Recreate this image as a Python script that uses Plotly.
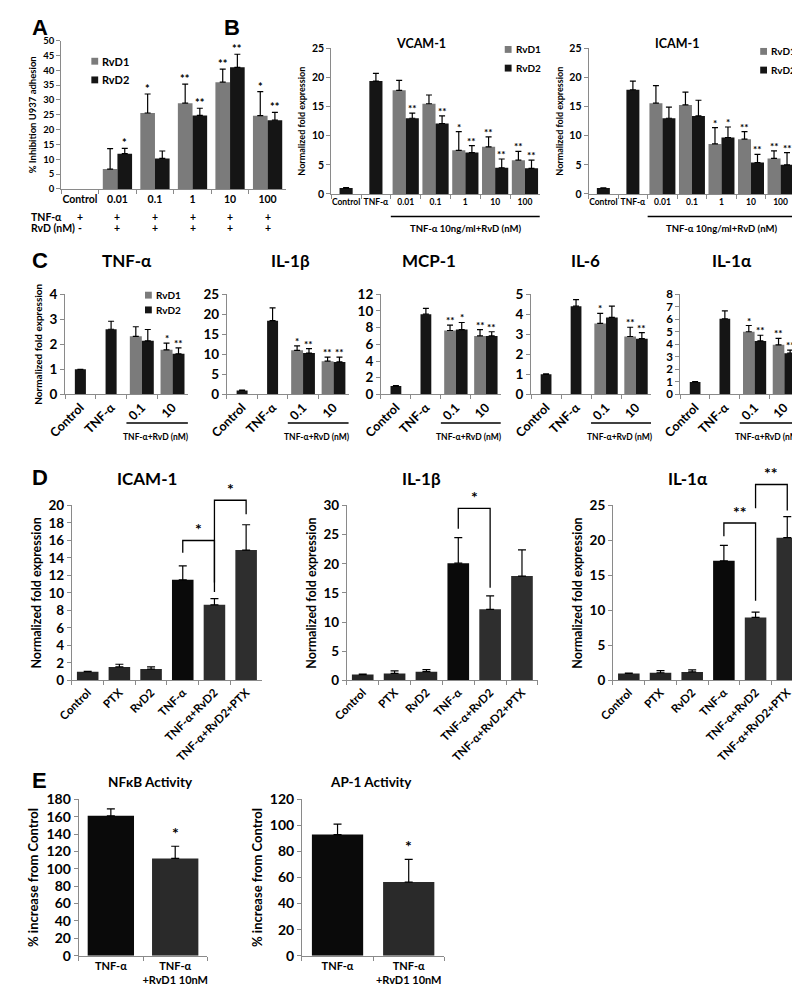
import plotly.graph_objects as go

W, H = 800, 993
FONT = "Lato"
AXC = "#8a8a8a"
GRAY = "#7b7b7b"
BLACK = "#151515"

# ---------------- Panel A : % inhibition U937 adhesion ----------------
a_categories = ["Control", "0.01", "0.1", "1", "10", "100"]
a_rvd1 = [None, 6.7, 25.6, 28.9, 36.0, 24.7]
a_rvd1_err = [None, 6.9, 6.4, 6.4, 4.4, 8.1]
a_rvd2 = [None, 11.9, 10.3, 24.8, 41.0, 23.2]
a_rvd2_err = [None, 1.8, 2.5, 2.4, 4.4, 2.6]
a_rvd1_sig = ["", "", "*", "**", "**", "*"]
a_rvd2_sig = ["", "*", "", "**", "**", "**"]
a_tnf_row = ["+", "+", "+", "+", "+", "+"]
a_rvd_row = ["-", "+", "+", "+", "+", "+"]

# ---------------- Panel B : VCAM-1 / ICAM-1 ----------------
b_categories = ["Control", "TNF-α", "0.01", "0.1", "1", "10", "100"]
vcam_single = [1.0, 19.4, None, None, None, None, None]
vcam_single_err = [0.1, 1.3, None, None, None, None, None]
vcam_rvd1 = [None, None, 17.8, 15.5, 7.5, 8.1, 5.8]
vcam_rvd1_err = [None, None, 1.7, 1.5, 3.2, 1.7, 1.5]
vcam_rvd2 = [None, None, 13.0, 12.1, 7.1, 4.5, 4.4]
vcam_rvd2_err = [None, None, 0.9, 1.3, 1.2, 1.5, 1.4]
vcam_rvd1_sig = ["", "", "", "", "*", "**", "**"]
vcam_rvd2_sig = ["", "", "**", "**", "**", "**", "**"]

icam_single = [1.0, 17.9, None, None, None, None, None]
icam_single_err = [0.05, 1.5, None, None, None, None, None]
icam_rvd1 = [None, None, 15.6, 15.3, 8.6, 9.4, 6.1]
icam_rvd1_err = [None, None, 3.0, 2.2, 2.8, 1.3, 1.3]
icam_rvd2 = [None, None, 13.0, 13.4, 9.7, 5.4, 5.0]
icam_rvd2_err = [None, None, 1.9, 2.7, 1.8, 1.4, 2.1]
icam_rvd1_sig = ["", "", "", "", "*", "**", "**"]
icam_rvd2_sig = ["", "", "", "", "*", "**", "**"]

# ---------------- Panel C : cytokines ----------------
c_categories = ["Control", "TNF-α", "0.1", "10"]
c_titles = ["TNF-α", "IL-1β", "MCP-1", "IL-6", "IL-1α"]
c_single = [[1.0, 2.6, None, None], [1.0, 18.4, None, None], [1.0, 9.6, None, None],
            [1.0, 4.4, None, None], [1.0, 6.04, None, None]]
c_single_err = [[0.0, 0.32, None, None], [0.1, 3.2, None, None], [0.05, 0.7, None, None],
                [0.02, 0.33, None, None], [0.02, 0.62, None, None]]
c_rvd1 = [[None, None, 2.32, 1.78], [None, None, 11.0, 8.3], [None, None, 7.65, 7.0],
          [None, None, 3.54, 2.89], [None, None, 5.0, 3.96]]
c_rvd1_err = [[None, None, 0.38, 0.27], [None, None, 1.1, 1.0], [None, None, 0.65, 0.75],
              [None, None, 0.5, 0.46], [None, None, 0.5, 0.52]]
c_rvd2 = [[None, None, 2.14, 1.62], [None, None, 10.3, 8.1], [None, None, 7.76, 7.0],
          [None, None, 3.84, 2.78], [None, None, 4.27, 3.29]]
c_rvd2_err = [[None, None, 0.45, 0.24], [None, None, 1.1, 1.2], [None, None, 0.85, 0.5],
              [None, None, 0.56, 0.3], [None, None, 0.45, 0.24]]
c_rvd1_sig = [["", "", "", "*"], ["", "", "*", "**"], ["", "", "**", "**"],
              ["", "", "*", "**"], ["", "", "*", "**"]]
c_rvd2_sig = [["", "", "", "**"], ["", "", "**", "**"], ["", "", "*", "**"],
              ["", "", "", "**"], ["", "", "**", "**"]]
c_ymax = [4, 25, 12, 5, 8]
c_dtick = [1, 5, 2, 1, 1]

# ---------------- Panel D : PTX experiments ----------------
d_categories = ["Control", "PTX", "RvD2", "TNF-α", "TNF-α+RvD2", "TNF-α+RvD2+PTX"]
d_colors = ["#262626", "#262626", "#262626", "#0a0a0a", "#2e2e2e", "#2e2e2e"]
d_titles = ["ICAM-1", "IL-1β", "IL-1α"]
d_values = [[1.0, 1.55, 1.3, 11.5, 8.65, 14.9],
            [1.0, 1.2, 1.5, 20.1, 12.2, 17.9],
            [1.0, 1.1, 1.22, 17.1, 9.0, 20.4]]
d_errors = [[0.05, 0.3, 0.25, 1.6, 0.7, 2.9],
            [0.08, 0.45, 0.35, 4.4, 2.3, 4.5],
            [0.05, 0.3, 0.3, 2.2, 0.75, 3.0]]
d_ymax = [20, 30, 25]
d_dtick = [2, 5, 5]
# brackets: (left category, right category, left leg end, right leg end, bar height, label)
d_brackets = [[(3, 4, 14.6, 11.2, 16.0, "*"), (4, 5, 10.1, 19.0, 20.6, "*")],
              [(3, 4, 26.0, 15.9, 29.5, "*")],
              [(3, 4, 20.6, 11.4, 22.5, "**"), (4, 5, 24.6, 24.3, 28.0, "**")]]

# ---------------- Panel E : NFkB / AP-1 activity ----------------
e_categories = ["TNF-α", "TNF-α<br>+RvD1 10nM"]
e_colors = ["#0a0a0a", "#2a2a2a"]
e_titles = ["NFκB Activity", "AP-1 Activity"]
e_values = [[161, 112], [93, 56.5]]
e_errors = [[8, 14], [8, 17.5]]
e_sig = [["", "*"], ["", "*"]]
e_ymax = [180, 120]
e_dtick = [20, 20]

# =====================================================================
fig = go.Figure()
layout = {}
annotations = []
shapes = []


def names(n):
    s = "" if n == 1 else str(n)
    return "x" + s, "y" + s, "xaxis" + s, "yaxis" + s


def pxf(x):
    return x / W


def pyf(y):
    return 1 - y / H


def nz(lst):
    return [0 if v is None else v for v in lst]


def setup_axes(n, cats, box, ymax, dtick, ytitle, yfont, xfont, xangle=0,
               ytitle_size=10, standoff=4):
    xr, yr, xa, ya = names(n)
    x0, x1, top, bottom = box
    layout[xa] = dict(domain=[pxf(x0), pxf(x1)], anchor=yr, type="category",
                      categoryorder="array", categoryarray=cats,
                      range=[-0.5, len(cats) - 0.5], showline=True, linecolor=AXC,
                      linewidth=1, ticks="outside", tickson="boundaries", ticklen=4,
                      tickcolor=AXC, tickfont=dict(size=xfont, color="black"),
                      tickangle=xangle, showgrid=False, zeroline=False, fixedrange=True)
    yd = dict(domain=[pyf(bottom), pyf(top)], anchor=xr, range=[0, ymax], dtick=dtick,
              tick0=0, showline=True, linecolor=AXC, linewidth=1, ticks="outside",
              ticklen=4, tickcolor=AXC, tickfont=dict(size=yfont, color="black"),
              showgrid=False, zeroline=False, fixedrange=True)
    if ytitle:
        yd["title"] = dict(text=ytitle, font=dict(size=ytitle_size, color="black"),
                           standoff=standoff)
    layout[ya] = yd


def err_dict(err, width=3):
    return dict(type="data", symmetric=False, array=nz(err), arrayminus=[0] * len(err),
                color="black", thickness=1.2, width=width, visible=True)


def grouped_bars(n, cats, single, single_err, r1, r1_err, r2, r2_err, s1, s2,
                 wp, ws, star_size):
    xr, yr, _, _ = names(n)
    if single is not None:
        fig.add_trace(go.Bar(x=cats, y=single, xaxis=xr, yaxis=yr, width=ws, offset=-ws / 2,
                             marker=dict(color=BLACK, line=dict(width=0)),
                             error_y=err_dict(single_err), showlegend=False))
    fig.add_trace(go.Bar(x=cats, y=r1, xaxis=xr, yaxis=yr, width=wp, offset=-wp,
                         marker=dict(color=GRAY, line=dict(width=0)),
                         error_y=err_dict(r1_err), name="RvD1", showlegend=False))
    fig.add_trace(go.Bar(x=cats, y=r2, xaxis=xr, yaxis=yr, width=wp, offset=0,
                         marker=dict(color=BLACK, line=dict(width=0)),
                         error_y=err_dict(r2_err), name="RvD2", showlegend=False))
    for vals, errs, sig, shift in ((r1, r1_err, s1, -wp / 2), (r2, r2_err, s2, wp / 2)):
        for i, (v, e, s) in enumerate(zip(vals, errs, sig)):
            if s and v is not None:
                annotations.append(dict(x=i + shift, y=v + (e or 0), xref=xr, yref=yr,
                                         text=s, showarrow=False, yanchor="bottom",
                                         yshift=-3, font=dict(size=star_size, color="black")))


def legend_keys(x, ys, size, box):
    for label, color, y in zip(["RvD1", "RvD2"], [GRAY, BLACK], ys):
        shapes.append(dict(type="rect", xref="paper", yref="paper",
                           x0=pxf(x), x1=pxf(x + box), y0=pyf(y + box / 2), y1=pyf(y - box / 2),
                           fillcolor=color, line=dict(width=0)))
        annotations.append(dict(x=pxf(x + box + 2), y=pyf(y), xref="paper", yref="paper",
                                text=label, showarrow=False, xanchor="left", yanchor="middle",
                                font=dict(size=size, color="black")))


def text(x, y, s, size, xanchor="center", family=None, xref="paper"):
    f = dict(size=size, color="black")
    if family:
        f["family"] = family
    annotations.append(dict(x=x if xref != "paper" else pxf(x), y=pyf(y), xref=xref,
                            yref="paper", text=s, showarrow=False, xanchor=xanchor,
                            yanchor="middle", font=f))


# ---------------- Panel A ----------------
setup_axes(1, a_categories, (35, 266, 24, 175), 50, 5, "% Inhibition U937 adhesion",
           9.5, 10.5, ytitle_size=9.5)
grouped_bars(1, a_categories, None, None, a_rvd1, a_rvd1_err, a_rvd2, a_rvd2_err,
             a_rvd1_sig, a_rvd2_sig, 0.39, 0.39, 11)
legend_keys(66, [45, 64], 11, 7)
text(2, 203, "TNF-α", 10.5, xanchor="left")
text(2, 215, "RvD (nM)", 10.5, xanchor="left")
for i, (t1, t2) in enumerate(zip(a_tnf_row, a_rvd_row)):
    text(i, 203, t1, 10.5, xref="x")
    text(i, 215, t2, 10.5, xref="x")
text(3, 11, "A", 22, xanchor="left", family="Liberation Sans")

# ---------------- Panel B ----------------
b_boxes = [(312, 526, 32, 180), (576, 788, 32, 180)]
b_data = [(vcam_single, vcam_single_err, vcam_rvd1, vcam_rvd1_err, vcam_rvd2, vcam_rvd2_err,
           vcam_rvd1_sig, vcam_rvd2_sig),
          (icam_single, icam_single_err, icam_rvd1, icam_rvd1_err, icam_rvd2, icam_rvd2_err,
           icam_rvd1_sig, icam_rvd2_sig)]
b_titles = ["VCAM-1", "ICAM-1"]
b_legend_x = [490, 752]
for k in range(2):
    n = 2 + k
    setup_axes(n, b_categories, b_boxes[k], 25, 5, "Normalized fold expression", 10.5, 8.5,
               ytitle_size=9)
    grouped_bars(n, b_categories, *b_data[k], 0.44, 0.44, 10)
    xr = names(n)[0]
    shapes.append(dict(type="line", xref=xr, yref="paper", x0=1.5, x1=6.5,
                       y0=pyf(203), y1=pyf(203), line=dict(color="black", width=1.5)))
    text(4, 215, "TNF-α 10ng/ml+RvD (nM)", 9.5, xref=xr)
    x0, x1 = b_boxes[k][0], b_boxes[k][1]
    text((x0 + x1) / 2 - 15, 27, b_titles[k], 12.5)
    legend_keys(b_legend_x[k], [33, 52] if k == 0 else [35, 54], 10, 7)
text(200, 11, "B", 22, xanchor="left", family="Liberation Sans")

# ---------------- Panel C ----------------
c_boxes = [(39, 165), (205, 330), (363, 486), (517, 640), (670, 792)]
c_title_x = [103, 270, 412, 573, 723]
for k in range(5):
    n = 4 + k
    setup_axes(n, c_categories, (c_boxes[k][0], c_boxes[k][1], 282, 384), c_ymax[k],
               c_dtick[k], "Normalized fold expression" if k == 0 else None,
               11.5 if c_ymax[k] > 5 and c_dtick[k] == 1 else 13.5, 12.5,
               xangle=-45, ytitle_size=10)
    grouped_bars(n, c_categories, c_single[k], c_single_err[k], c_rvd1[k], c_rvd1_err[k],
                 c_rvd2[k], c_rvd2_err[k], c_rvd1_sig[k], c_rvd2_sig[k], 0.39, 0.36, 10)
    xr = names(n)[0]
    shapes.append(dict(type="line", xref=xr, yref="paper", x0=1.5, x1=3.5,
                       y0=pyf(413), y1=pyf(413), line=dict(color="black", width=1.5)))
    text(2.45, 427, "TNF-α+RvD (nM)", 8.5, xref=xr)
    text(c_title_x[k], 248, c_titles[k], 17)
legend_keys(121, [283, 298], 10, 7)
text(3, 248, "C", 22, xanchor="left", family="Liberation Sans")

# ---------------- Panel D ----------------
d_boxes = [(46, 241), (328, 524), (601, 796)]
d_title_x = [123, 405, 678]
for k in range(3):
    n = 9 + k
    setup_axes(n, d_categories, (d_boxes[k][0], d_boxes[k][1], 497, 675), d_ymax[k],
               d_dtick[k], "Normalized fold expression", 13.5, 11.5, xangle=-45,
               ytitle_size=12.5)
    xr, yr, _, _ = names(n)
    fig.add_trace(go.Bar(x=d_categories, y=d_values[k], xaxis=xr, yaxis=yr, width=0.68,
                         marker=dict(color=d_colors, line=dict(width=0)),
                         error_y=err_dict(d_errors[k], 4), showlegend=False))
    ydom = names(n)[1] + " domain"
    for (l, r, lb, rb, top, lab) in d_brackets[k]:
        ym = d_ymax[k]
        shapes.append(dict(type="path", xref=xr, yref=ydom,
                           path=f"M {l},{lb / ym} L {l},{top / ym} L {r},{top / ym} L {r},{rb / ym}",
                           line=dict(color="black", width=1.3)))
        annotations.append(dict(x=(l + r) / 2, y=top / ym, xref=xr, yref=ydom, text=lab,
                                showarrow=False, yanchor="bottom", yshift=0,
                                font=dict(size=16, color="black")))
    text(d_title_x[k], 470, d_titles[k], 17)
text(3, 469, "D", 22, xanchor="left", family="Liberation Sans")

# ---------------- Panel E ----------------
e_boxes = [(53, 185), (282, 428)]
e_title_x = [127, 353]
for k in range(2):
    n = 12 + k
    setup_axes(n, e_categories, (e_boxes[k][0], e_boxes[k][1], 796, 955), e_ymax[k],
               e_dtick[k], "% increase from Control", 14, 11, ytitle_size=13)
    xr, yr, _, _ = names(n)
    fig.add_trace(go.Bar(x=e_categories, y=e_values[k], xaxis=xr, yaxis=yr, width=0.72,
                         marker=dict(color=e_colors, line=dict(width=0)),
                         error_y=err_dict(e_errors[k], 4), showlegend=False))
    for i, (v, e, s) in enumerate(zip(e_values[k], e_errors[k], e_sig[k])):
        if s:
            annotations.append(dict(x=i, y=v + e, xref=xr, yref=yr, text=s, showarrow=False,
                                    yanchor="bottom", yshift=2,
                                    font=dict(size=16, color="black")))
    text(e_title_x[k], 778, e_titles[k], 13.5)
text(3, 777, "E", 22, xanchor="left", family="Liberation Sans")

fig.update_layout(
    width=W, height=H, margin=dict(l=0, r=0, t=0, b=0),
    paper_bgcolor="white", plot_bgcolor="white", barmode="overlay",
    font=dict(family=FONT, size=10, color="black", weight="bold"),
    showlegend=False, annotations=annotations, shapes=shapes, **layout)

fig.write_html("out.html")
